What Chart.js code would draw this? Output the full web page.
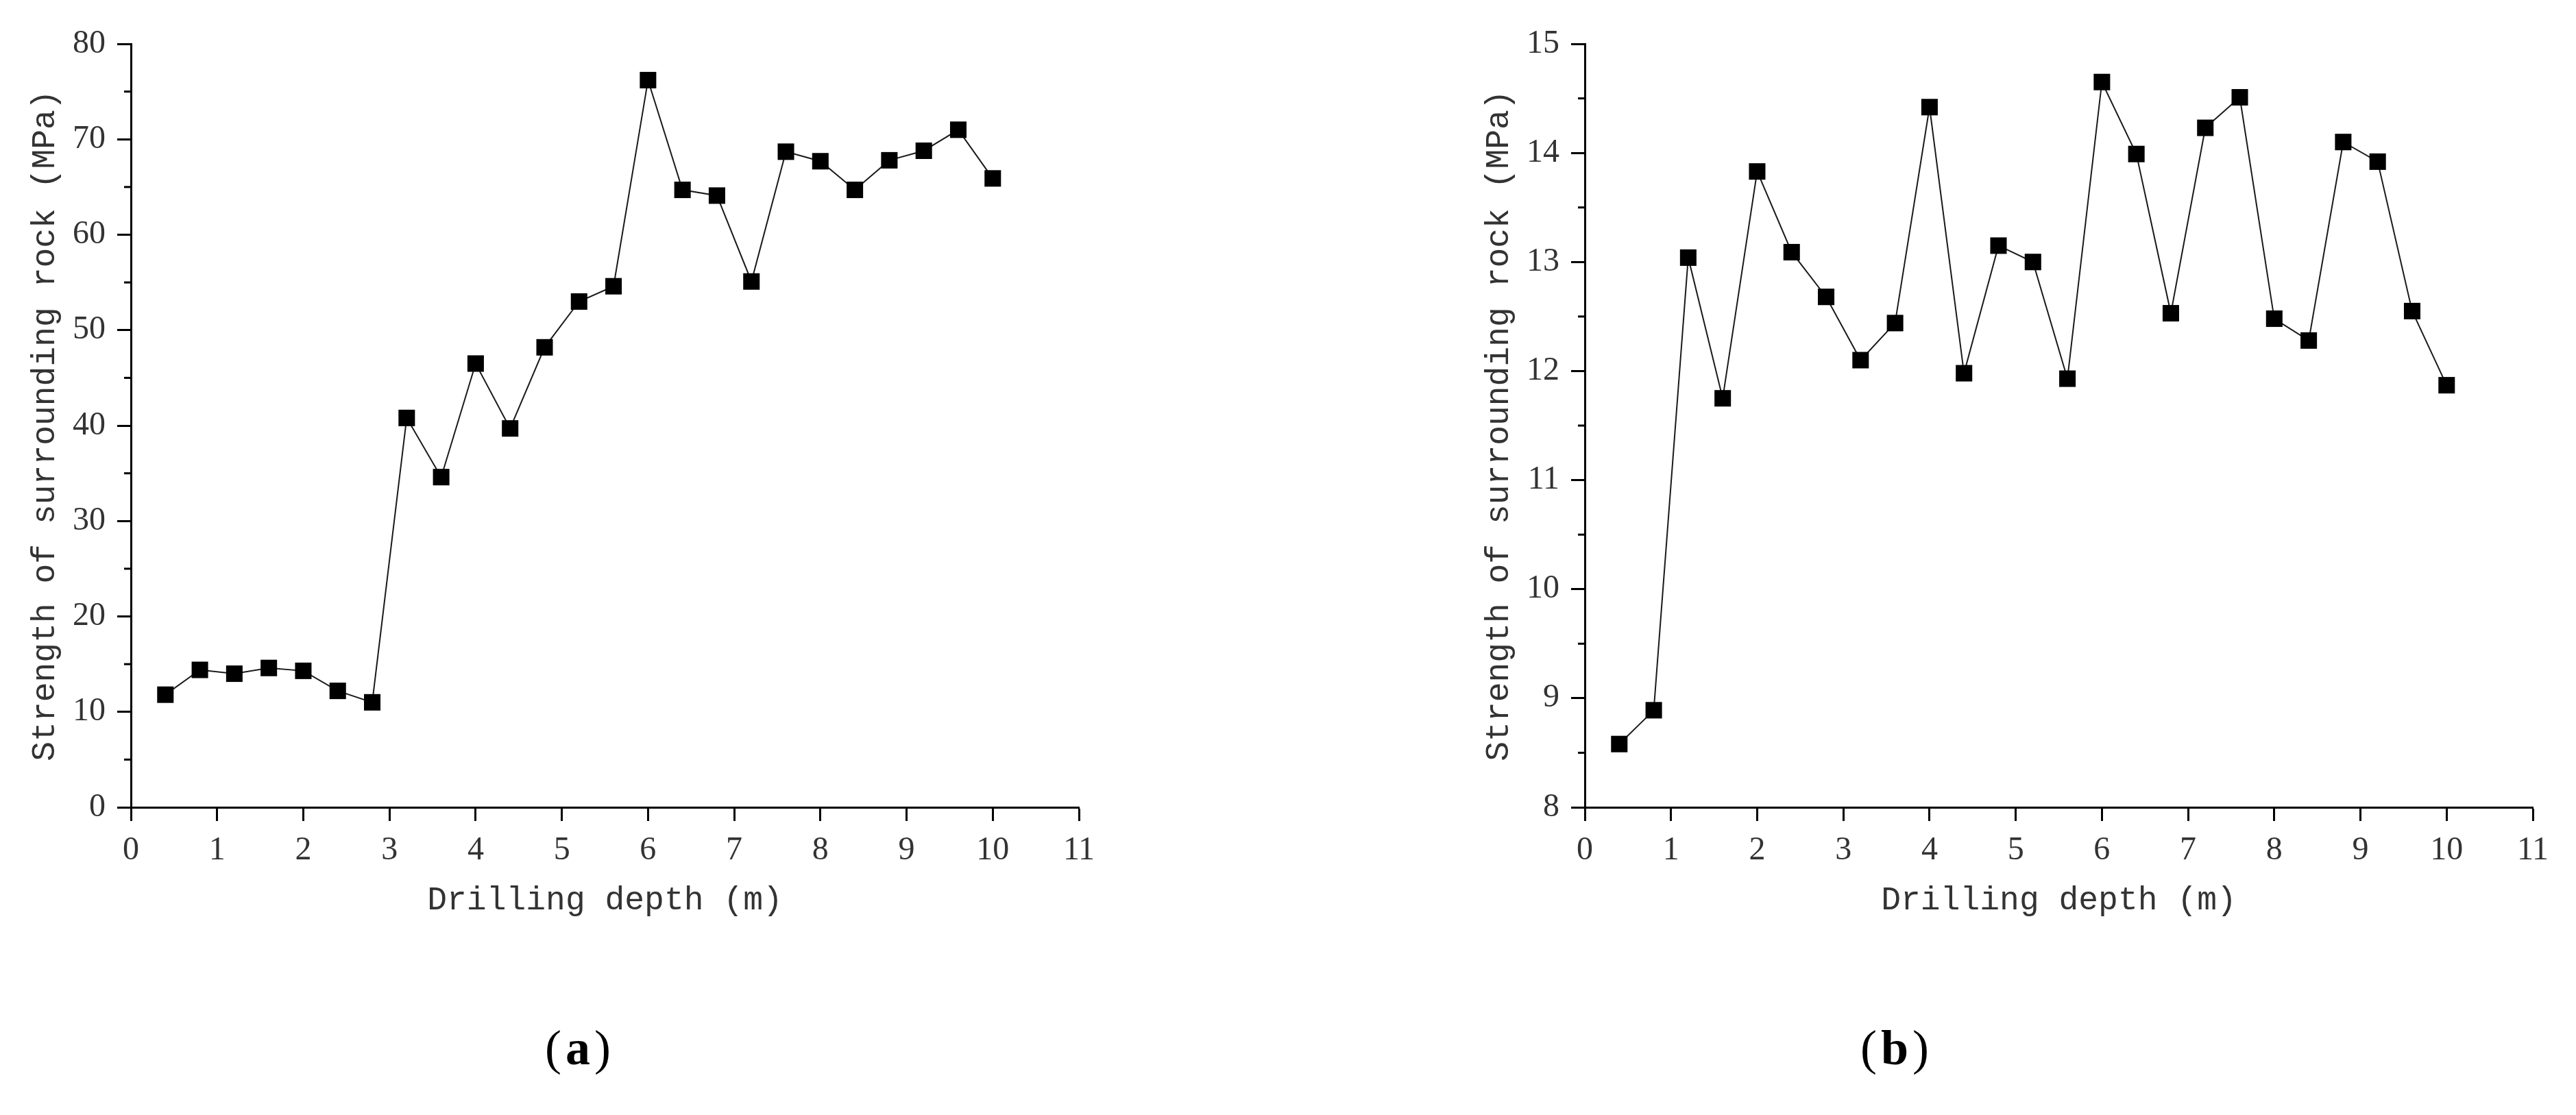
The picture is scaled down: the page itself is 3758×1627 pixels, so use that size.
<!DOCTYPE html>
<html><head><meta charset="utf-8">
<script src="https://cdn.jsdelivr.net/npm/chart.js@4/dist/chart.umd.min.js"></script>
<style>
html,body{margin:0;padding:0;background:#fff;width:3758px;height:1627px;overflow:hidden}
canvas{position:absolute;top:0}
.cap{position:absolute;font-family:"Liberation Serif",serif;font-size:72px;line-height:72px;color:#000;transform:translateX(-50%);white-space:nowrap;letter-spacing:6px}
</style></head><body>
<canvas id="ca" width="1637" height="1400" style="left:0px"></canvas>
<canvas id="cb" width="1637" height="1400" style="left:2121px"></canvas>
<div class="cap" style="left:846px;top:1493px">(<b>a</b>)</div>
<div class="cap" style="left:2767px;top:1493px">(<b>b</b>)</div>
<script>
// ---- data ----
const depths = [0.4,0.8,1.2,1.6,2.0,2.4,2.8,3.2,3.6,4.0,4.4,4.8,5.2,5.6,6.0,6.4,6.8,7.2,7.6,8.0,8.4,8.8,9.2,9.6,10.0];
const strengthA = [11.8,14.4,14.0,14.6,14.3,12.2,11.0,40.8,34.6,46.5,39.7,48.2,53.0,54.6,76.2,64.7,64.1,55.1,68.7,67.7,64.7,67.8,68.8,71.0,65.9];
const strengthB = [8.58,8.89,13.04,11.75,13.83,13.09,12.68,12.10,12.44,14.42,11.98,13.15,13.00,11.93,14.65,13.99,12.53,14.23,14.51,12.48,12.28,14.10,13.92,12.55,11.87];
const xTitle = "Drilling depth (m)";
const yTitle = "Strength of surrounding rock (MPa)";
const xRange = [0, 11, 1];
const yRangeA = [0, 80, 10];
const yRangeB = [8, 15, 1];

const CANVAS_H = 1400;
const PLOT_BOTTOM = 1178;
const Y_AXIS_W = 191;

const minorTicks = {
  id: 'minorTicks',
  afterDraw(chart) {
    const s = chart.scales.y;
    const ctx = chart.ctx;
    const t = s.ticks;
    ctx.save();
    ctx.strokeStyle = '#000';
    ctx.lineWidth = 3;
    for (let i = 0; i < t.length - 1; i++) {
      const y = s.getPixelForValue((t[i].value + t[i+1].value) / 2);
      ctx.beginPath();
      ctx.moveTo(s.right, y);
      ctx.lineTo(s.right - 10, y);
      ctx.stroke();
    }
    ctx.restore();
  }
};

function makeChart(id, values, yr) {
  const pts = depths.map((d, i) => ({x: d, y: values[i]}));
  return new Chart(document.getElementById(id), {
    type: 'line',
    data: { datasets: [{
      data: pts,
      borderColor: '#1a1a1a',
      borderWidth: 2,
      tension: 0,
      pointStyle: 'rect',
      pointRadius: 17,
      pointBackgroundColor: '#000',
      pointBorderWidth: 0,
      fill: false
    }]},
    plugins: [minorTicks],
    options: {
      responsive: false,
      devicePixelRatio: 1,
      animation: false,
      events: [],
      layout: { padding: { top: 64, right: 63, bottom: 0, left: 0 } },
      plugins: { legend: { display: false }, tooltip: { enabled: false } },
      scales: {
        x: {
          type: 'linear', min: xRange[0], max: xRange[1],
          afterFit(s) { s.height = CANVAS_H - PLOT_BOTTOM; },
          ticks: { stepSize: xRange[2], padding: 15, color: '#333',
                   font: { family: 'Liberation Serif', size: 48 } },
          grid: { drawOnChartArea: false, drawTicks: true, tickLength: 20, tickWidth: 3, tickColor: '#000' },
          border: { display: true, color: '#000', width: 3 },
          title: { display: true, text: xTitle, color: '#333',
                   font: { family: 'Liberation Mono', size: 48 },
                   padding: { top: 0, bottom: 57 } }
        },
        y: {
          type: 'linear', min: yr[0], max: yr[1],
          afterFit(s) { s.width = Y_AXIS_W; },
          ticks: { stepSize: yr[2], padding: 17, color: '#333',
                   font: { family: 'Liberation Serif', size: 48 } },
          grid: { drawOnChartArea: false, drawTicks: true, tickLength: 20, tickWidth: 3, tickColor: '#000' },
          border: { display: true, color: '#000', width: 3 },
          title: { display: true, text: yTitle, color: '#333',
                   font: { family: 'Liberation Mono', size: 48 },
                   padding: { top: 37, bottom: 0 } }
        }
      }
    }
  });
}
makeChart('ca', strengthA, yRangeA);
makeChart('cb', strengthB, yRangeB);
</script>
</body></html>
